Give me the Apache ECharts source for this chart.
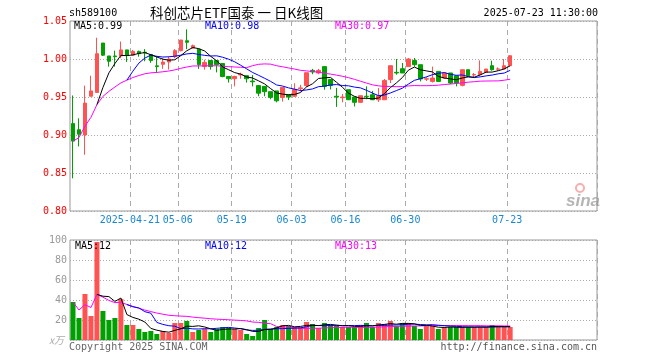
<!DOCTYPE html>
<html><head><meta charset="utf-8">
<script src="https://cdn.jsdelivr.net/npm/echarts@6/dist/echarts.min.js"></script>
<style>html,body{margin:0;padding:0;background:#fff}#c{width:660px;height:360px}</style>
</head><body><div id="c"></div>
<script>
const dates = [
'2025-04-07','2025-04-08','2025-04-09','2025-04-10','2025-04-11',
'2025-04-14','2025-04-15','2025-04-16','2025-04-17','2025-04-18',
'2025-04-21','2025-04-22','2025-04-23','2025-04-24','2025-04-25',
'2025-04-28','2025-04-29','2025-04-30',
'2025-05-06','2025-05-07','2025-05-08','2025-05-09',
'2025-05-12','2025-05-13','2025-05-14','2025-05-15','2025-05-16',
'2025-05-19','2025-05-20','2025-05-21','2025-05-22','2025-05-23',
'2025-05-26','2025-05-27','2025-05-28','2025-05-29','2025-05-30',
'2025-06-03','2025-06-04','2025-06-05','2025-06-06',
'2025-06-09','2025-06-10','2025-06-11','2025-06-12','2025-06-13',
'2025-06-16','2025-06-17','2025-06-18','2025-06-19','2025-06-20',
'2025-06-23','2025-06-24','2025-06-25','2025-06-26','2025-06-27',
'2025-06-30','2025-07-01','2025-07-02','2025-07-03','2025-07-04',
'2025-07-07','2025-07-08','2025-07-09','2025-07-10','2025-07-11',
'2025-07-14','2025-07-15','2025-07-16','2025-07-17','2025-07-18',
'2025-07-21','2025-07-22','2025-07-23'];
const emptySlots = 14;
// [open, close, low, high]
const ohlc = [
[0.915,0.892,0.843,0.952],[0.907,0.901,0.885,0.922],[0.900,0.942,0.874,0.965],[0.951,0.958,0.951,0.978],[0.956,1.007,0.956,1.028],
[1.021,1.005,1.004,1.021],[1.004,0.997,0.990,1.004],[1.004,1.003,0.990,1.011],[1.004,1.012,1.001,1.023],[1.012,1.005,0.996,1.012],
[1.005,1.010,1.005,1.012],[1.010,1.007,1.003,1.011],[1.009,1.008,0.997,1.013],[1.006,0.998,0.995,1.006],[0.991,0.990,0.982,1.003],
[0.993,0.996,0.987,1.001],[0.996,1.000,0.986,1.003],[1.003,1.011,1.001,1.013],
[1.011,1.025,1.010,1.025],[1.024,1.022,1.013,1.039],[1.0145,1.0175,1.014,1.019],[1.013,0.9925,0.987,1.013],
[0.990,0.9955,0.986,0.999],[0.998,0.990,0.986,0.998],[0.998,0.9925,0.9824,0.998],[0.994,0.977,0.976,0.994],[0.977,0.974,0.969,0.977],
[0.974,0.977,0.964,0.978],[0.979,0.980,0.974,0.982],[0.978,0.974,0.969,0.978],[0.971,0.970,0.964,0.979],[0.965,0.955,0.951,0.965],
[0.964,0.957,0.951,0.964],[0.957,0.9495,0.947,0.957],[0.958,0.945,0.943,0.958],[0.9495,0.9626,0.944,0.9626],[0.953,0.950,0.946,0.953],
[0.951,0.960,0.950,0.968],[0.961,0.962,0.957,0.966],[0.965,0.982,0.963,0.982],[0.985,0.983,0.980,0.987],
[0.9816,0.985,0.980,0.987],[0.990,0.964,0.9596,0.990],[0.973,0.965,0.960,0.973],[0.951,0.950,0.937,0.962],[0.949,0.950,0.943,0.954],
[0.9596,0.9464,0.946,0.9596],[0.950,0.943,0.9376,0.950],[0.943,0.9517,0.942,0.9517],[0.951,0.9505,0.947,0.964],[0.953,0.9464,0.946,0.958],
[0.9464,0.9517,0.9435,0.9618],[0.9464,0.9718,0.9464,0.9737],[0.9728,0.9912,0.9684,0.9912],[0.9825,0.9816,0.9793,1.000],[0.9872,0.9816,0.9816,0.9947],
[0.990,1.000,0.990,1.0013],[0.998,0.9925,0.990,1.0013],[0.9925,0.9737,0.9705,0.9925],[0.9735,0.974,0.971,0.976],[0.9705,0.975,0.969,0.990],
[0.9837,0.9705,0.970,0.9837],[0.975,0.9816,0.974,0.9826],[0.9816,0.9684,0.967,0.9816],[0.978,0.9684,0.964,0.978],[0.9653,0.9859,0.964,0.9862],
[0.9859,0.978,0.977,0.9859],[0.979,0.9795,0.976,0.9816],[0.9793,0.9837,0.978,0.9982],[0.9824,0.9868,0.9824,0.9868],[0.9912,0.9859,0.9846,0.9977],
[0.9866,0.9870,0.9846,0.989],[0.9868,0.9912,0.9868,1.000],[0.9912,1.0043,0.9912,1.0043]];
const volumes = [38,22,46,24,98,29,20,22,41,15,15,11,8,9,6,9,7,17,17,19,8,10,11,8,11,13,12,11,10,6,4,12,20,11,13,15,14,13,13,18,16,12,17,15,
14,13,13,13,15,17,13,17,16,19,14,17,17,14,11,14,14,11,13,13,13,13,13,13,13,13,15,13,13,13];
const tickDates = ['2025-04-21','2025-05-06','2025-05-19','2025-06-03','2025-06-16','2025-06-30','2025-07-23'];
const tickLabels = ['2025-04-21','05-06','05-19','06-03','06-16','06-30','07-23'];
const priceTicks = {min:0.80, max:1.05, step:0.05};
const volTicks = {min:0, max:100, step:20};
const priceLegend = ['MA5:0.99','MA10:0.98','MA30:0.97'];
const volLegend = ['MA5:12','MA10:12','MA30:13'];

const UP='#ff5353', DOWN='#00a000';
const cats = dates.concat(Array.from({length:emptySlots},(_, i)=>'_'+i));
function ma(arr, n, expanding){
  const out=[]; let s=0;
  for(let i=0;i<arr.length;i++){
    s+=arr[i]; if(i>=n) s-=arr[i-n];
    if(i>=n-1) out.push(+(s/n).toFixed(5));
    else out.push(expanding? +(s/(i+1)).toFixed(5) : '-');
  }
  return out;
}
const closes = ohlc.map(d=>d[1]);
const isTick = (i,v)=> tickDates.indexOf(v)>=0;
const mono = '"DejaVu Sans Mono", "Liberation Mono", monospace';
const split = {show:true, interval:isTick, lineStyle:{color:'#aaa', type:[5,4], width:1}};

const chart = echarts.init(document.getElementById('c'), null, {renderer:'canvas'});
function txt(text,x,y,fill,opts){
  return Object.assign({type:'text', z:100, style:Object.assign({text, x, y, fill, font:'10px '+mono,
    textAlign:'left', align:'left', textVerticalAlign:'middle', verticalAlign:'middle'}, opts||{})});
}
chart.setOption({
  animation:false,
  backgroundColor:'#fff',
  grid:[
    {left:70, top:21, width:527, height:190, show:true, borderColor:'#999', borderWidth:1},
    {left:70, top:240, width:527, height:100, show:true, borderColor:'#999', borderWidth:1}
  ],
  xAxis:[
    {type:'category', gridIndex:0, data:cats, boundaryGap:true,
     axisLine:{show:false}, axisTick:{show:false},
     axisLabel:{interval:isTick, color:'#1a88d0', fontFamily:mono, fontSize:10, margin:4, padding:[0,6,0,0],
       formatter:(v)=>{const k=tickDates.indexOf(v); return k>=0?tickLabels[k]:'';}},
     splitLine:split},
    {type:'category', gridIndex:1, data:cats, boundaryGap:true,
     axisLine:{show:false}, axisTick:{show:false}, axisLabel:{show:false}, splitLine:split}
  ],
  yAxis:[
    {type:'value', gridIndex:0, min:priceTicks.min, max:priceTicks.max, interval:priceTicks.step,
     axisLine:{show:false}, axisTick:{show:false},
     axisLabel:{color:'#ff0000', fontFamily:mono, fontSize:10, margin:3, formatter:v=>v.toFixed(2)},
     splitLine:{lineStyle:{color:'#aaa', type:[1,2]}}},
    {type:'value', gridIndex:1, min:volTicks.min, max:volTicks.max, interval:volTicks.step,
     axisLine:{show:false}, axisTick:{show:false},
     axisLabel:{color:'#999', fontFamily:mono, fontSize:10, margin:3, formatter:v=>v===0?'':String(v)},
     splitLine:{lineStyle:{color:'#aaa', type:[1,2]}}}
  ],
  series:[
    {type:'candlestick', xAxisIndex:0, yAxisIndex:0, data:ohlc, barWidth:4,
     itemStyle:{color:UP, color0:DOWN, borderColor:UP, borderColor0:DOWN, borderWidth:1}},
    {type:'line', xAxisIndex:0, yAxisIndex:0, data:ma(closes,30,true), symbol:'none', lineStyle:{color:'#ff00ff', width:1}, z:3},
    {type:'line', xAxisIndex:0, yAxisIndex:0, data:ma(closes,10,false), symbol:'none', lineStyle:{color:'#0000ff', width:1}, z:3},
    {type:'line', xAxisIndex:0, yAxisIndex:0, data:ma(closes,5,false), symbol:'none', lineStyle:{color:'#000', width:1}, z:3},
    {type:'bar', xAxisIndex:1, yAxisIndex:1, barWidth:5,
     data:volumes.map((v,i)=>({value:v, itemStyle:{color: ohlc[i][1]>=ohlc[i][0]?UP:DOWN}}))},
    {type:'line', xAxisIndex:1, yAxisIndex:1, data:ma(volumes,30,true), symbol:'none', lineStyle:{color:'#ff00ff', width:1}, z:3},
    {type:'line', xAxisIndex:1, yAxisIndex:1, data:ma(volumes,10,false), symbol:'none', lineStyle:{color:'#0000ff', width:1}, z:3},
    {type:'line', xAxisIndex:1, yAxisIndex:1, data:ma(volumes,5,false), symbol:'none', lineStyle:{color:'#000', width:1}, z:3}
  ],
  graphic:[
    txt('sh589100',69,13,'#000'),
    txt('科创芯片ETF国泰 一 日K线图',150,13,'#000',{font:'13.5px "Noto Sans CJK SC"'}),
    txt('2025-07-23 11:30:00',598,13,'#000',{textAlign:'right', align:'right'}),
    txt(priceLegend[0],74,26,'#000'),
    txt(priceLegend[1],205,26,'#0000ff'),
    txt(priceLegend[2],335,26,'#ff00ff'),
    txt(volLegend[0],75,246,'#000'),
    txt(volLegend[1],205,246,'#0000ff'),
    txt(volLegend[2],335,246,'#ff00ff'),
    txt('x万',49,340,'#aaa',{font:'italic 10px "Noto Sans CJK SC"'}),
    txt('Copyright 2025 SINA.COM',69,347,'#666'),
    txt('http://finance.sina.com.cn',597,347,'#555',{textAlign:'right', align:'right'}),
    {type:'circle', z:99, shape:{cx:580,cy:188,r:4}, style:{fill:'none', stroke:'rgba(240,120,120,0.6)', lineWidth:2}},
    txt('sina',566,201,'rgba(150,150,150,0.7)',{font:'italic bold 17px "Liberation Sans"'})
  ]
});
</script></body></html>
